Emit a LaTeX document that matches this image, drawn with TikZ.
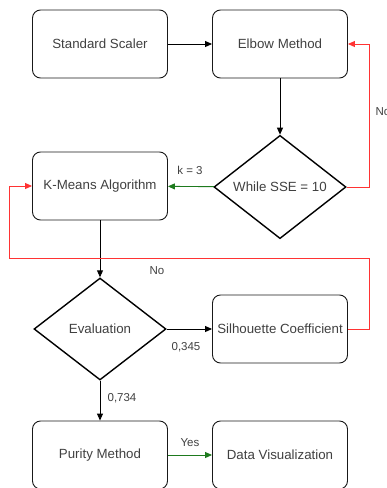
\documentclass[tikz,border=0pt]{standalone}
\usepackage{fontspec}
\setmainfont{Liberation Sans}
\usetikzlibrary{shapes.geometric,arrows.meta}
\definecolor{noline}{HTML}{FF3333}
\definecolor{yesline}{HTML}{1E7A1E}
\tikzset{
	stepbox/.style={draw=black!90, line width=0.9pt, rounded corners=8pt, minimum width=135pt, minimum height=68pt, font=\fontsize{13.3}{15}\selectfont, text=black!75},
	decision/.style={draw=black, line width=1.4pt, diamond, inner sep=0pt, minimum width=132pt, minimum height=102pt, font=\fontsize{13.3}{15}\selectfont, text=black!75},
	flow/.style={-{Triangle[length=7pt,width=6pt]}, line width=0.9pt},
	edgelabel/.style={font=\fontsize{11.5}{13}\selectfont, text=black!75}
}
\begin{document}
\begin{tikzpicture}[x=1pt, y=-1pt]
		\useasboundingbox (0, 0) rectangle (387, 488);

		\node[stepbox] (scaler) at (100, 44) {Standard Scaler};
		\node[stepbox] (elbow) at (280, 44) {Elbow Method};
		\node[decision] (sse) at (280, 187) {While SSE = 10};
		\node[stepbox] (kmeans) at (100, 186) {K-Means Algorithm};
		\node[decision] (eval) at (100, 329) {Evaluation};
		\node[stepbox] (silh) at (280, 329) {Silhouette Coefficient};
		\node[stepbox] (purity) at (100, 455) {Purity Method};
		\node[stepbox] (visual) at (280, 455) {Data Visualization};

		\draw[flow] (scaler) -- (elbow);
		\draw[flow] (elbow) -- (sse);
		\draw[flow, yesline] (sse) -- (kmeans);
		\draw[flow] (kmeans) -- (eval);
		\draw[flow] (eval) -- (silh);
		\draw[flow] (eval) -- (purity);
		\draw[flow, yesline] (purity) -- (visual);

		% red loops back
		\draw[flow, noline] (sse.east) -- (369, 187) -- (369, 44) -- (elbow.east);
		\draw[flow, noline] (silh.east) -- (369, 329) -- (369, 258) -- (9, 258) -- (9, 186) -- (kmeans.west);

		\node[edgelabel, anchor=west] (nosse) at (372, 112) {No};
		\node[edgelabel] (nosilh) at (157, 271) {No};
		\node[edgelabel] (kval) at (190, 170) {k = 3};
		\node[edgelabel] (lowval) at (186, 347) {0,345};
		\node[edgelabel] (highval) at (122, 398) {0,734};
		\node[edgelabel] (yes) at (190, 443) {Yes};
	\end{tikzpicture}
\end{document}
